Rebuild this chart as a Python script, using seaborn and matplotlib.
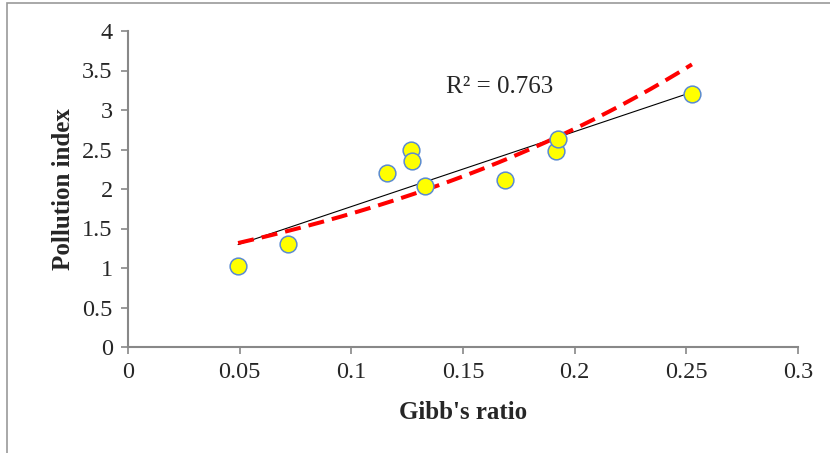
import numpy as np
import pandas as pd
import matplotlib
matplotlib.use("Agg")
import matplotlib.pyplot as plt
import seaborn as sns
from matplotlib.patches import Rectangle

# Data
gibbs_ratio = [0.0493, 0.0716, 0.116, 0.1267, 0.127, 0.133, 0.169, 0.1917, 0.1925, 0.2525]
pollution_index = [1.03, 1.30, 2.20, 2.50, 2.35, 2.04, 2.12, 2.48, 2.63, 3.20]
r2_label = "R² = 0.763"
x_ticks = [0, 0.05, 0.1, 0.15, 0.2, 0.25, 0.3]
x_tick_labels = ["0", "0.05", "0.1", "0.15", "0.2", "0.25", "0.3"]
y_ticks = [0, 0.5, 1, 1.5, 2, 2.5, 3, 3.5, 4]
y_tick_labels = ["0", "0.5", "1", "1.5", "2", "2.5", "3", "3.5", "4"]

df = pd.DataFrame({"x": gibbs_ratio, "y": pollution_index})

sns.set_style("white")
plt.rcParams["font.family"] = ["Liberation Serif", "DejaVu Serif"]

fig = plt.figure(figsize=(8.30, 4.53), dpi=100)
ax = fig.add_axes([128/830, 1-347/453, (798-128)/830, (347-31)/453])

# Exponential trend (red dashed)
xs = np.linspace(min(gibbs_ratio), max(gibbs_ratio), 200)
b, lna = np.polyfit(df["x"], np.log(df["y"]), 1)
exp_df = pd.DataFrame({"x": xs, "y": np.exp(lna) * np.exp(b * xs)})

# Linear trend (black)
m, c = np.polyfit(df["x"], df["y"], 1)
lin_df = pd.DataFrame({"x": xs, "y": m * xs + c})

sns.lineplot(data=lin_df, x="x", y="y", ax=ax, color="black", linewidth=0.8, zorder=2)
sns.lineplot(data=exp_df, x="x", y="y", ax=ax, color="#FF0000", linewidth=2.9,
             dashes=False, zorder=3).lines[-1].set_dashes([4.0, 2.0])
sns.scatterplot(data=df, x="x", y="y", ax=ax, s=145, color="#FFFF00",
                edgecolor="#5B8BD0", linewidth=1.1, zorder=4)

ax.set_xlim(0, 0.3)
ax.set_ylim(0, 4)
ax.set_xticks(x_ticks)
ax.set_xticklabels(x_tick_labels)
ax.set_yticks(y_ticks)
ax.set_yticklabels(y_tick_labels)
ax.tick_params(axis="both", direction="out", length=5, width=1.2, color="#888888",
               labelsize=17.5, pad=6, left=True, bottom=True)
for s in ["top", "right"]:
    ax.spines[s].set_visible(False)
for s in ["left", "bottom"]:
    ax.spines[s].set_color("#888888")
    ax.spines[s].set_linewidth(1.5)

ax.set_xlabel("Gibb's ratio", fontsize=18, fontweight="bold", labelpad=13)
ax.set_ylabel("Pollution index", fontsize=18, fontweight="bold", labelpad=5)
ax.text(0.1424, 3.29, r2_label, fontsize=18, va="center", ha="left")

fig.patches.append(Rectangle((7/830, -0.1), 1.2, 1-3/453+0.1, transform=fig.transFigure,
                             fill=False, edgecolor="#999999", linewidth=1.2))

fig.savefig("out.png", dpi=100)
